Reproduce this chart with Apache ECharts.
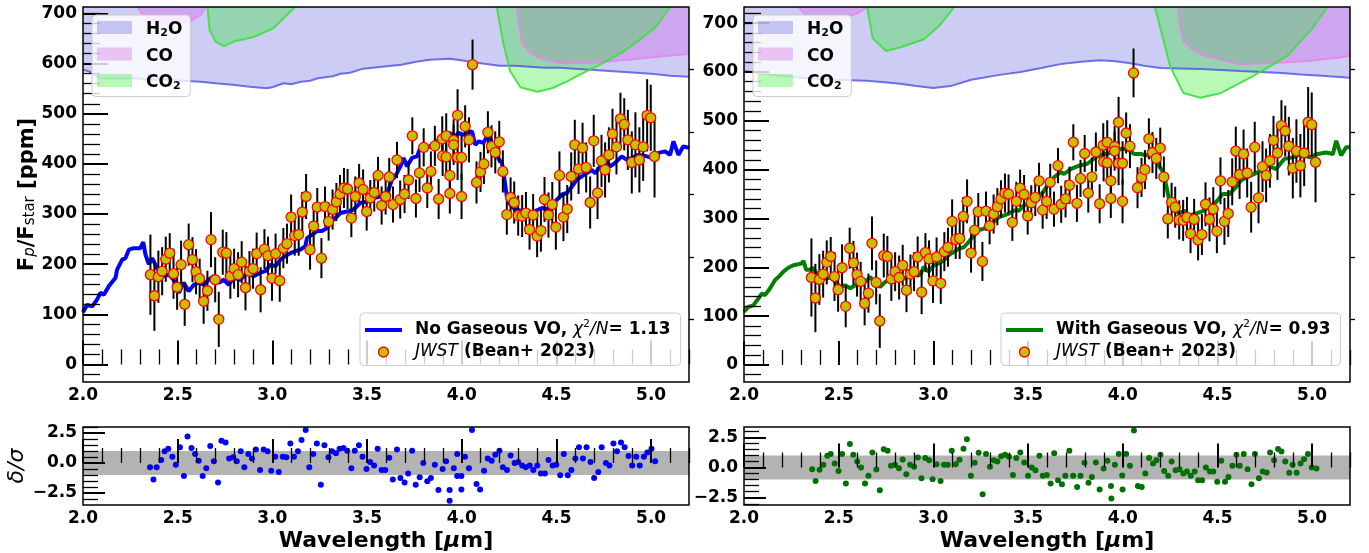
<!DOCTYPE html>
<html>
<head>
<meta charset="utf-8">
<script src="https://cdn.jsdelivr.net/npm/echarts@6/dist/echarts.min.js"></script>
<style>
  html, body { margin: 0; padding: 0; background: #fff; }
  #chart { width: 1369px; height: 553px; }
</style>
</head>
<body>
<div id="chart"></div>
<script>
// JWST points (wavelength um, Fp/Fstar ppm, 1-sigma)
const wave = [2.356,2.377,2.398,2.418,2.437,2.458,2.478,2.497,2.518,2.537,2.558,2.578,2.597,2.616,2.637,2.657,2.676,2.698,2.717,2.738,
  2.757,2.778,2.798,2.819,2.838,2.858,2.879,2.898,2.917,2.938,2.958,2.977,2.998,3.017,3.039,3.058,3.077,3.099,3.118,3.139,
  3.158,3.178,3.199,3.218,3.237,3.259,3.278,3.297,3.318,3.338,3.357,3.378,3.397,3.417,3.438,3.458,3.479,3.498,3.517,3.538,
  3.558,3.577,3.598,3.617,3.637,3.658,3.675,3.698,3.719,3.739,3.758,3.777,3.799,3.818,3.837,3.858,3.878,3.897,3.899,3.918,
  3.918,3.937,3.937,3.957,3.957,3.978,3.978,3.999,3.999,4.018,4.038,4.057,4.078,4.099,4.117,4.138,4.157,4.177,4.198,4.217,
  4.238,4.258,4.277,4.298,4.319,4.339,4.358,4.377,4.398,4.418,4.437,4.458,4.478,4.497,4.516,4.537,4.557,4.578,4.597,4.617,
  4.638,4.657,4.678,4.697,4.717,4.738,4.757,4.777,4.796,4.817,4.838,4.858,4.877,4.898,4.917,4.938,4.958,4.979,4.998,5.018];
const flux = [179,137,175,186,210,222,181,154,199,120,239,209,185,171,126,147,249,169,90,224,
  222,176,191,179,204,153,186,191,221,149,230,217,172,221,167,232,241,294,257,259,
  304,335,229,276,314,212,315,285,309,324,340,352,350,292,335,362,349,305,332,343,
  377,317,335,374,319,408,329,340,368,456,331,382,433,352,385,436,330,450,416,456,
  414,377,341,447,438,497,413,413,335,475,448,598,363,384,400,463,435,423,444,385,
  299,333,323,297,296,302,269,298,256,267,329,298,319,274,377,294,310,375,438,390,
  432,393,323,446,342,406,388,418,460,434,490,479,448,403,438,408,434,497,492,415];
const fluxErr = [80,70,52,48,45,40,50,45,48,43,42,45,45,40,45,40,55,45,55,45,
  42,45,40,45,42,45,40,40,42,45,40,38,45,40,42,40,40,45,40,42,
  40,45,40,42,38,40,40,38,40,38,38,40,40,38,40,38,40,38,36,38,
  37,38,36,38,36,36,38,38,38,37,38,38,38,40,40,40,40,45,40,45,
  40,42,40,42,40,52,45,45,45,42,45,50,42,40,40,42,42,42,42,42,
  40,40,42,40,42,42,40,42,42,42,45,45,45,45,48,48,48,48,50,50,
  50,50,52,52,52,52,55,55,50,55,52,52,60,62,65,65,68,72,66,82];

// best-fit models
const modelNoVO = [[2.0,104],[2.022,119],[2.049,116],[2.075,130],[2.092,143],[2.11,139],[2.136,156],[2.172,173],[2.18,189],[2.207,209],
  [2.224,212],[2.242,229],[2.268,232],[2.303,232],[2.318,244],[2.33,219],[2.347,200],[2.365,212],[2.39,193],[2.418,176],
  [2.453,179],[2.479,169],[2.506,143],[2.532,163],[2.558,146],[2.585,159],[2.611,163],[2.637,159],[2.664,169],[2.69,176],
  [2.717,163],[2.743,169],[2.77,159],[2.796,173],[2.831,169],[2.866,183],[2.901,176],[2.937,183],[2.963,186],[2.989,199],
  [3.016,196],[3.042,209],[3.069,216],[3.095,222],[3.121,226],[3.148,229],[3.174,236],[3.183,252],[3.21,259],[3.236,266],
  [3.262,266],[3.289,272],[3.315,286],[3.341,295],[3.359,302],[3.394,305],[3.429,309],[3.464,322],[3.5,325],[3.535,332],
  [3.57,335],[3.605,339],[3.632,369],[3.649,375],[3.676,395],[3.693,412],[3.711,395],[3.737,412],[3.764,415],[3.781,432],
  [3.816,432],[3.843,438],[3.869,445],[3.896,452],[3.922,458],[3.939,462],[3.957,452],[3.983,462],[4.009,458],[4.027,462],
  [4.054,465],[4.071,438],[4.089,445],[4.115,442],[4.133,455],[4.15,452],[4.177,422],[4.198,408],[4.212,402],[4.221,382],
  [4.238,335],[4.256,319],[4.282,309],[4.318,306],[4.353,302],[4.388,306],[4.423,312],[4.458,310],[4.493,325],[4.529,339],
  [4.555,342],[4.582,355],[4.608,369],[4.634,375],[4.661,382],[4.687,388],[4.705,381],[4.731,395],[4.757,408],[4.784,395],
  [4.81,402],[4.845,415],[4.872,408],[4.898,412],[4.933,418],[4.968,416],[5.004,412],[5.039,422],[5.074,425],[5.1,418],
  [5.118,445],[5.144,418],[5.17,435],[5.2,432]];
const modelVO = [[2.0,109],[2.023,119],[2.049,122],[2.076,136],[2.094,146],[2.111,143],[2.138,157],[2.164,174],[2.182,180],[2.208,191],
  [2.234,199],[2.261,204],[2.287,206],[2.305,208],[2.314,213],[2.328,195],[2.349,195],[2.363,199],[2.385,187],[2.411,177],
  [2.437,177],[2.464,180],[2.481,170],[2.508,160],[2.534,163],[2.561,157],[2.587,163],[2.614,167],[2.64,170],[2.667,180],
  [2.693,167],[2.72,160],[2.746,170],[2.772,175],[2.799,174],[2.825,180],[2.852,177],[2.878,184],[2.905,187],[2.931,184],
  [2.949,201],[2.975,191],[3.002,204],[3.028,208],[3.055,214],[3.081,225],[3.108,231],[3.134,238],[3.161,241],[3.187,252],
  [3.214,265],[3.24,276],[3.267,279],[3.293,286],[3.319,293],[3.346,303],[3.372,306],[3.399,310],[3.425,316],[3.452,316],
  [3.478,327],[3.513,330],[3.549,340],[3.575,352],[3.602,367],[3.637,384],[3.672,395],[3.69,391],[3.725,401],[3.769,408],
  [3.813,412],[3.857,425],[3.901,432],[3.954,435],[3.989,442],[4.025,442],[4.06,432],[4.095,432],[4.122,429],[4.148,432],
  [4.184,412],[4.219,391],[4.228,371],[4.245,337],[4.271,320],[4.298,310],[4.324,316],[4.351,306],[4.386,310],[4.422,315],
  [4.457,323],[4.492,333],[4.528,350],[4.563,350],[4.598,364],[4.624,378],[4.66,385],[4.695,391],[4.73,398],[4.766,408],
  [4.81,401],[4.854,422],[4.898,425],[4.942,432],[4.986,425],[5.03,432],[5.074,435],[5.11,432],[5.127,459],[5.153,429],
  [5.18,446],[5.2,446]];

// residuals (wavelength, delta/sigma)
const residNoVO = [[2.354,-0.35],[2.372,-1.38],[2.389,-0.35],[2.413,0.24],[2.431,0.97],[2.45,1.18],[2.472,0.53],[2.49,-0.15],[2.512,1.32],[2.533,-1.09],
  [2.552,2.2],[2.573,1.26],[2.592,0.74],[2.611,0.18],[2.632,-1.09],[2.651,-0.44],[2.672,1.41],[2.691,0.15],[2.713,-1.62],[2.731,1.85],
  [2.753,1.7],[2.772,0.38],[2.793,0.47],[2.812,0.15],[2.833,0.97],[2.852,-0.35],[2.873,0.74],[2.892,0.38],[2.913,1.12],[2.935,-0.59],
  [2.954,1.12],[2.975,0.97],[2.994,-0.65],[3.015,0.53],[3.034,-0.74],[3.055,0.53],[3.074,0.47],[3.095,1.62],[3.114,0.53],[3.135,0.97],
  [3.154,1.91],[3.176,2.74],[3.195,-0.35],[3.216,0.74],[3.235,1.62],[3.256,-1.82],[3.275,1.47],[3.296,0.47],[3.315,0.97],[3.336,0.82],
  [3.355,1.18],[3.376,1.26],[3.395,1.03],[3.417,-0.44],[3.435,1.03],[3.457,1.47],[3.476,0.53],[3.497,-0.5],[3.516,0.09],[3.537,-0.21],
  [3.556,1.18],[3.577,-0.59],[3.596,-0.59],[3.617,0.44],[3.636,-1.38],[3.658,1.12],[3.676,-1.24],[3.698,-1.62],[3.717,-0.88],[3.738,1.03],
  [3.757,-1.82],[3.778,-1.18],[3.797,0.0],[3.818,-1.53],[3.837,-1.24],[3.858,-0.15],[3.877,-2.26],[3.899,-0.5],[3.917,0.15],[3.936,-2.26],
  [3.936,-3.15],[3.958,-0.44],[3.976,-1.09],[3.976,0.74],[3.998,-1.09],[3.998,-2.2],[4.017,0.53],[4.038,-0.44],[4.054,2.74],[4.078,-1.74],
  [4.097,-2.2],[4.118,-0.65],[4.137,0.38],[4.158,0.18],[4.177,0.68],[4.199,1.03],[4.217,-0.35],[4.239,-0.59],[4.258,0.62],[4.279,0.0],
  [4.298,0.09],[4.319,-0.21],[4.338,-0.35],[4.359,-0.21],[4.378,-0.59],[4.399,-0.21],[4.418,-0.88],[4.439,-0.88],[4.458,0.24],[4.48,-0.21],
  [4.499,-0.15],[4.52,-1.03],[4.539,0.74],[4.56,-1.03],[4.579,-0.59],[4.6,0.38],[4.619,1.32],[4.64,0.38],[4.659,1.32],[4.68,0.09],
  [4.699,-1.24],[4.721,-0.74],[4.739,1.32],[4.761,0.0],[4.78,-0.21],[4.801,1.62],[4.82,0.97],[4.841,1.7],[4.86,1.32],[4.881,0.59],
  [4.9,-0.21],[4.921,0.53],[4.94,-0.21],[4.962,0.53],[4.98,0.88],[5.002,1.18],[5.021,0.15]];
const residVO = [[2.36,-0.14],[2.378,-1.11],[2.399,-0.19],[2.419,0.22],[2.44,0.97],[2.458,1.11],[2.479,0.33],[2.499,-0.28],[2.518,1.11],[2.538,-1.33],
  [2.559,1.94],[2.577,1.06],[2.598,0.5],[2.618,0.0],[2.639,-1.33],[2.657,-0.69],[2.678,1.25],[2.699,-0.17],[2.717,-1.89],[2.738,1.5],
  [2.758,1.39],[2.776,0.14],[2.797,0.22],[2.818,-0.06],[2.838,0.67],[2.857,-0.56],[2.877,0.22],[2.898,0.06],[2.918,0.83],[2.937,-0.89],
  [2.957,0.78],[2.978,0.61],[2.996,-0.97],[3.017,0.28],[3.038,-1.11],[3.056,0.22],[3.076,0.22],[3.097,1.39],[3.118,0.28],[3.138,0.64],
  [3.159,1.56],[3.177,2.33],[3.198,-0.69],[3.218,0.39],[3.239,1.22],[3.26,-2.22],[3.278,1.11],[3.299,0.06],[3.319,0.61],[3.338,0.5],
  [3.358,0.94],[3.379,1.06],[3.399,0.89],[3.42,-0.61],[3.438,0.78],[3.459,1.25],[3.48,0.42],[3.5,-0.69],[3.519,0.0],[3.539,-0.22],
  [3.56,0.97],[3.578,-0.69],[3.599,-0.61],[3.619,-1.33],[3.638,1.17],[3.658,-1.06],[3.679,-1.39],[3.697,-0.69],[3.718,1.39],[3.738,-0.69],
  [3.759,-1.61],[3.777,-0.69],[3.798,0.39],[3.819,-1.25],[3.837,-0.78],[3.858,0.42],[3.878,-1.81],[3.899,-0.08],[3.919,0.56],[3.938,-1.53],
  [3.94,-2.56],[3.958,0.22],[3.979,1.11],[3.997,-0.67],[3.999,-1.81],[4.018,1.11],[4.038,0.14],[4.059,3.06],[4.08,-1.53],[4.1,-1.61],
  [4.119,-0.5],[4.139,0.78],[4.16,0.33],[4.178,0.61],[4.199,1.06],[4.219,-0.28],[4.24,-0.69],[4.258,0.5],[4.279,-0.22],[4.3,-0.14],
  [4.32,-0.5],[4.339,-0.33],[4.359,-0.69],[4.38,-0.33],[4.398,-1.06],[4.419,-1.06],[4.439,0.0],[4.46,-0.33],[4.478,-0.33],[4.499,-1.17],
  [4.52,0.56],[4.54,-1.17],[4.558,-0.78],[4.579,0.14],[4.6,1.06],[4.618,0.14],[4.639,1.11],[4.659,-0.14],[4.68,-1.39],[4.698,1.11],
  [4.719,-0.89],[4.739,-0.33],[4.76,-0.42],[4.778,1.25],[4.799,0.61],[4.82,1.53],[4.838,1.33],[4.858,0.5],[4.879,-0.44],[4.897,0.22],
  [4.918,-0.44],[4.939,0.33],[4.957,0.69],[4.978,1.11],[4.998,0.0],[5.023,-0.08]];

// opacity-contour edges of the absorbers (left / right panels)
const h2oL = [[2.0,588],[2.03,585],[2.05,580],[2.09,571],[2.18,570],[2.27,571],[2.36,568],[2.45,568],[2.53,566],[2.62,564],[2.7,561],
  [2.79,558],[2.88,554],[2.97,551],[3.0,553],[3.06,561],[3.1,559],[3.15,564],[3.2,566],[3.24,571],[3.32,575],[3.36,580],[3.41,582],
  [3.48,590],[3.58,594],[3.68,598],[3.76,604],[3.83,608],[3.94,610],[4.05,604],[4.12,600],[4.2,596],[4.28,596],[4.36,594],[4.44,592],
  [4.52,592],[4.6,590],[4.68,588],[4.76,586],[4.84,584],[4.92,582],[5.0,580],[5.1,576],[5.2,574]];
const coL1 = [[2.29,713],[2.31,700],[2.35,690],[2.42,682],[2.5,680],[2.57,685],[2.62,697],[2.65,713]];
const coL2 = [[4.29,713],[4.3,680],[4.32,641],[4.36,622],[4.41,610],[4.53,601],[4.7,602],[4.88,608],[5.06,615],[5.2,619]];
const co2L1 = [[2.657,713],[2.669,667],[2.7,644],[2.743,635],[2.796,644],[2.9,653],[3.006,671],[3.12,713]];
const co2L2 = [[4.185,713],[4.22,640],[4.256,585],[4.31,553],[4.4,544],[4.476,551],[4.56,565],[4.634,580],[4.74,600],[4.845,622],
  [4.93,645],[5.02,671],[5.1,713]];
const h2oR = [[2.0,602],[2.1,597],[2.19,592],[2.33,587],[2.47,584],[2.65,582],[2.74,579],[2.825,576],[2.91,571],[3.0,567],[3.09,571],
  [3.2,584],[3.35,594],[3.46,600],[3.57,608],[3.67,616],[3.78,621],[3.88,624],[3.96,622],[4.04,618],[4.12,612],[4.2,608],[4.3,607],
  [4.41,606],[4.52,604],[4.62,602],[4.73,600],[4.84,598],[4.94,595],[5.05,592],[5.2,588]];
const coR1 = [[2.29,733],[2.32,718],[2.38,711],[2.45,709],[2.53,712],[2.6,720],[2.65,733]];
const coR2 = [[4.29,733],[4.3,700],[4.32,663],[4.37,645],[4.43,633],[4.61,616],[4.78,618],[4.96,622],[5.14,629],[5.2,633]];
const co2R1 = [[2.65,733],[2.68,669],[2.75,643],[2.83,651],[2.95,667],[3.03,694],[3.11,733]];
const co2R2 = [[4.17,733],[4.25,612],[4.32,557],[4.41,547],[4.52,557],[4.69,592],[4.87,633],[5.01,694],[5.08,733]];

// tick positions
const xMajor = [2.0, 2.5, 3.0, 3.5, 4.0, 4.5, 5.0];
const xMinor = [2.1,2.2,2.3,2.4,2.6,2.7,2.8,2.9,3.1,3.2,3.3,3.4,3.6,3.7,3.8,3.9,4.1,4.2,4.3,4.4,4.6,4.7,4.8,4.9,5.1,5.2];
const fluxMajor = [0, 100, 200, 300, 400, 500, 600, 700];
const fluxMinorL = [-20,20,40,60,80,120,140,160,180,220,240,260,280,320,340,360,380,420,440,460,480,520,540,560,580,620,640,660,680,700];
const fluxMinorR = fluxMinorL.concat([720]);
const resMajor = [-2.5, 0, 2.5];
const resMinor = [-3,-2,-1.5,-1,-0.5,0.5,1,1.5,2,3];
const twinTicks = [1, 2, 3, 4, 5];

const FONT = 'DejaVu Sans';
const H2O_FILL = 'rgba(40,40,210,0.24)', H2O_LINE = 'rgba(80,80,225,0.8)';
const CO_FILL = 'rgba(210,80,230,0.30)', CO_LINE = 'rgba(235,130,235,0.85)';
const CO2_FILL = 'rgba(20,235,20,0.30)', CO2_LINE = 'rgba(60,225,60,0.9)';

const points = wave.map((w, i) => [w, flux[i], fluxErr[i]]);

const chart = echarts.init(document.getElementById('chart'));

const grids = [
  { left: 83, top: 7, width: 606, height: 375 },
  { left: 744, top: 7, width: 606, height: 375 },
  { left: 83, top: 427, width: 606, height: 81 },
  { left: 744, top: 427, width: 606, height: 81 }
].map(g => Object.assign({ show: true, borderColor: '#000', borderWidth: 1.5, z: 8 }, g));

const labelStyle = { fontFamily: FONT, fontWeight: 'bold', fontSize: 17, color: '#000' };

function xPair(gi, withName) {
  const major = {
    type: 'value', gridIndex: gi, position: 'bottom', min: 2, max: 5.2, z: 9,
    axisLine: { show: false }, splitLine: { show: false },
    axisTick: { show: true, inside: true, length: 24, customValues: xMajor, lineStyle: { color: '#000', width: 2 } },
    axisLabel: Object.assign({ customValues: xMajor, margin: 5, formatter: v => v.toFixed(1) }, labelStyle)
  };
  if (withName) {
    major.name = 'Wavelength [{i|μ}m]';
    major.nameLocation = 'middle';
    major.nameGap = 25;
    major.nameTextStyle = {
      fontFamily: FONT, fontWeight: 'bold', fontSize: 22, color: '#000',
      rich: { i: { fontFamily: FONT, fontStyle: 'italic', fontSize: 22, color: '#000' } }
    };
  }
  const minor = {
    type: 'value', gridIndex: gi, position: 'bottom', min: 2, max: 5.2, z: 9,
    axisLine: { show: false }, splitLine: { show: false }, axisLabel: { show: false },
    axisTick: { show: true, inside: true, length: 15, customValues: xMinor, lineStyle: { color: '#000', width: 1.3 } }
  };
  return [major, minor];
}

function yPair(gi, min, max, majors, minors, fmt, majLen, minLen) {
  return [{
    type: 'value', gridIndex: gi, position: 'left', min: min, max: max, z: 9,
    axisLine: { show: false }, splitLine: { show: false },
    axisTick: { show: true, inside: true, length: majLen, customValues: majors, lineStyle: { color: '#000', width: 2 } },
    axisLabel: Object.assign({ customValues: majors, margin: 6, formatter: fmt }, labelStyle)
  }, {
    type: 'value', gridIndex: gi, position: 'left', min: min, max: max, z: 9,
    axisLine: { show: false }, splitLine: { show: false }, axisLabel: { show: false },
    axisTick: { show: true, inside: true, length: minLen, customValues: minors, lineStyle: { color: '#000', width: 1.3 } }
  }];
}

function twin(gi) {
  return {
    type: 'value', gridIndex: gi, position: 'right', min: 0, max: 6, z: 9,
    axisLine: { show: false }, splitLine: { show: false }, axisLabel: { show: false },
    axisTick: { show: true, inside: false, length: 5, customValues: twinTicks, lineStyle: { color: '#000', width: 1.3 } }
  };
}

const fluxFmt = v => String(Math.round(v));
const resFmt = v => v === 0 ? '0.0' : (v < 0 ? '\u2212' + Math.abs(v).toFixed(1) : v.toFixed(1));

const yTopL = yPair(0, -35, 713, fluxMajor, fluxMinorL, fluxFmt, 25, 17);
yTopL[0].name = '{b|F}{s|p}{b|/F}{t|star}{b| [ppm]}';
yTopL[0].nameLocation = 'middle';
yTopL[0].nameGap = 40;
yTopL[0].nameRotate = 90;
yTopL[0].nameTextStyle = {
  rich: {
    b: { fontFamily: FONT, fontWeight: 'bold', fontSize: 21, color: '#000', lineHeight: 26, verticalAlign: 'bottom' },
    s: { fontFamily: FONT, fontStyle: 'italic', fontSize: 15, color: '#000', lineHeight: 22, verticalAlign: 'bottom' },
    t: { fontFamily: FONT, fontSize: 15, color: '#000', lineHeight: 22, verticalAlign: 'bottom' }
  }
};
const yTopR = yPair(1, -35, 733, fluxMajor, fluxMinorR, fluxFmt, 25, 17);
const yBotL = yPair(2, -3.5, 3.0, resMajor, resMinor, resFmt, 22, 15);
yBotL[0].name = 'δ/σ';
yBotL[0].nameLocation = 'middle';
yBotL[0].nameGap = 46;
yBotL[0].nameRotate = 90;
yBotL[0].nameTextStyle = { fontFamily: FONT, fontStyle: 'italic', fontSize: 22, color: '#000' };
const yBotR = yPair(3, -3.1, 3.35, resMajor, resMinor, resFmt, 22, 15);

const xAxes = [].concat(xPair(0, false), xPair(1, false), xPair(2, true), xPair(3, true));
// y indices: 0,1 topL | 2 twinL | 3,4 topR | 5 twinR | 6,7 botL | 8,9 botR
const yAxes = [].concat(yTopL, [twin(0)], yTopR, [twin(1)], yBotL, yBotR);

function area(name, data, xi, yi, fill, line) {
  return {
    name: name, type: 'line', xAxisIndex: xi, yAxisIndex: yi, data: data,
    symbol: 'none', silent: true, z: 1,
    lineStyle: { color: line, width: 2 },
    areaStyle: { color: fill, origin: 'end', opacity: 1 }
  };
}

function errBars(xi, yi) {
  return {
    type: 'custom', xAxisIndex: xi, yAxisIndex: yi, data: points, z: 4, silent: true, clip: true,
    encode: { x: 0, y: 1 },
    renderItem: (params, api) => {
      const x = api.value(0), y = api.value(1), e = api.value(2);
      const a = api.coord([x, y - e]), b = api.coord([x, y + e]);
      return { type: 'line', shape: { x1: a[0], y1: a[1], x2: b[0], y2: b[1] }, style: { stroke: '#000', lineWidth: 2 } };
    }
  };
}

function jwst(xi, yi) {
  return {
    name: 'JWST', type: 'scatter', xAxisIndex: xi, yAxisIndex: yi, z: 5,
    data: points.map(p => [p[0], p[1]]), symbolSize: 10,
    itemStyle: { color: '#c4c000', borderColor: '#ff0000', borderWidth: 1.3, opacity: 1 }
  };
}

function model(name, data, xi, yi, color) {
  return {
    name: name, type: 'line', xAxisIndex: xi, yAxisIndex: yi, data: data, symbol: 'none', z: 3,
    lineStyle: { color: color, width: 4 }
  };
}

function resid(data, xi, yi, color) {
  return {
    type: 'scatter', xAxisIndex: xi, yAxisIndex: yi, data: data, symbolSize: 6, z: 5,
    itemStyle: { color: color, opacity: 1 },
    markArea: { silent: true, itemStyle: { color: '#b3b3b3' }, data: [[{ yAxis: -1 }, { yAxis: 1 }]] }
  };
}

const subRich = {
  b: { fontFamily: FONT, fontWeight: 'bold', fontSize: 17, color: '#000', lineHeight: 22, verticalAlign: 'bottom' },
  s: { fontFamily: FONT, fontWeight: 'bold', fontSize: 11, color: '#000', lineHeight: 18, verticalAlign: 'bottom' },
  g: { width: 9 }
};
function absorberLegend(left) {
  return {
    left: left, top: 15, orient: 'vertical', itemWidth: 35, itemHeight: 13, itemGap: 9,
    padding: [6, 8, 5, 5], selectedMode: false, z: 20,
    backgroundColor: 'rgba(255,255,255,0.8)', borderColor: '#cccccc', borderWidth: 1, borderRadius: 4,
    data: [
      { name: 'H2O', icon: 'rect', itemStyle: { color: H2O_FILL, borderWidth: 0 } },
      { name: 'CO', icon: 'rect', itemStyle: { color: CO_FILL, borderWidth: 0 } },
      { name: 'CO2', icon: 'rect', itemStyle: { color: CO2_FILL, borderWidth: 0 } }
    ],
    formatter: n => n === 'H2O' ? '{g|}{b|H}{s|2}{b|O}' : n === 'CO2' ? '{g|}{b|CO}{s|2}' : '{g|}{b|CO}',
    textStyle: { rich: subRich }
  };
}

const modelRich = {
  b: { fontFamily: FONT, fontWeight: 'bold', fontSize: 17, color: '#000', lineHeight: 22, verticalAlign: 'middle' },
  i: { fontFamily: FONT, fontStyle: 'italic', fontSize: 17, color: '#000', lineHeight: 22, verticalAlign: 'middle' },
  u: { fontFamily: FONT, fontSize: 11, color: '#000', lineHeight: 22, verticalAlign: 'top' },
  g: { width: 8 }
};
function modelLegend(left, name, color, chi) {
  return {
    left: left, top: 313, orient: 'vertical', itemWidth: 37, itemHeight: 10, itemGap: 5,
    padding: [6, 10, 5, 5], selectedMode: false, z: 20,
    backgroundColor: 'rgba(255,255,255,0.8)', borderColor: '#cccccc', borderWidth: 1, borderRadius: 4,
    data: [
      { name: name, icon: 'path://M0,0L37,0L37,4L0,4Z', itemStyle: { color: color } },
      { name: 'JWST', icon: 'circle', itemStyle: { color: '#c4c000', borderColor: '#ff0000', borderWidth: 1.3 } }
    ],
    formatter: n => n === 'JWST' ? '{g|}{i|JWST}{b| (Bean+ 2023)}'
      : '{g|}{b|' + name + ', }{i|χ}{u|2}{i|/N}{b|= ' + chi + '}',
    textStyle: { rich: modelRich }
  };
}

const option = {
  animation: false,
  backgroundColor: '#fff',
  grid: grids,
  xAxis: xAxes,
  yAxis: yAxes,
  legend: [
    absorberLegend(92),
    absorberLegend(753),
    modelLegend(360, 'No Gaseous VO', '#0000ff', '1.13'),
    modelLegend(1001, 'With Gaseous VO', '#008000', '0.93')
  ],
  series: [
    area('H2O', h2oL, 0, 0, H2O_FILL, H2O_LINE),
    area('CO', coL1, 0, 0, CO_FILL, CO_LINE),
    area('CO', coL2, 0, 0, CO_FILL, CO_LINE),
    area('CO2', co2L1, 0, 0, CO2_FILL, CO2_LINE),
    area('CO2', co2L2, 0, 0, CO2_FILL, CO2_LINE),
    model('No Gaseous VO', modelNoVO, 0, 0, '#0000ff'),
    errBars(0, 0),
    jwst(0, 0),

    area('H2O', h2oR, 2, 3, H2O_FILL, H2O_LINE),
    area('CO', coR1, 2, 3, CO_FILL, CO_LINE),
    area('CO', coR2, 2, 3, CO_FILL, CO_LINE),
    area('CO2', co2R1, 2, 3, CO2_FILL, CO2_LINE),
    area('CO2', co2R2, 2, 3, CO2_FILL, CO2_LINE),
    model('With Gaseous VO', modelVO, 2, 3, '#008000'),
    errBars(2, 3),
    jwst(2, 3),

    resid(residNoVO, 4, 6, '#0000ff'),
    resid(residVO, 6, 8, '#007000')
  ]
};

chart.setOption(option);
</script>
</body>
</html>
